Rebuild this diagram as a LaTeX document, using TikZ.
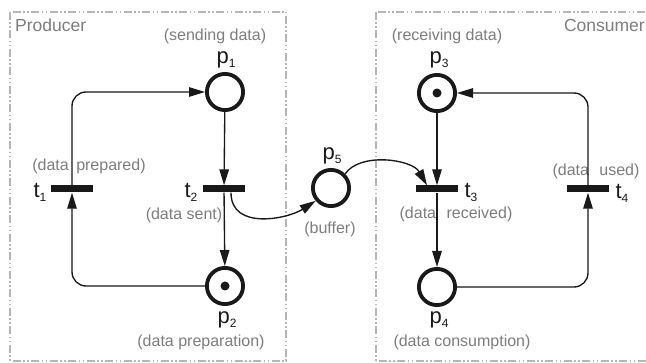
\documentclass[tikz,border=0pt]{standalone}
\usepackage{fontspec}
\setmainfont{Liberation Sans}
\usetikzlibrary{arrows.meta}
\definecolor{labelgray}{RGB}{125,125,125}
\definecolor{framegray}{RGB}{182,182,182}
\definecolor{ink}{RGB}{25,25,25}
% element name with a small lowered index
\newcommand\elname[2]{#1\raisebox{-4pt}{\fontsize{12}{12}\selectfont #2}}

\begin{document}
\begin{tikzpicture}[x=1pt,y=-1pt,
  pl/.style={circle,draw=ink,line width=3.8pt,minimum size=36.2pt,inner sep=0pt},
  tr/.style={rectangle,fill=ink,minimum width=42pt,minimum height=7pt,inner sep=0pt},
  tok/.style={circle,fill=ink,minimum size=9pt,inner sep=0pt},
  elabel/.style={text=ink,font=\fontsize{22}{22}\selectfont,inner sep=0pt},
  note/.style={text=labelgray,font=\fontsize{16}{16}\selectfont,inner sep=0pt},
  grouptitle/.style={text=labelgray,font=\fontsize{17.5}{17.5}\selectfont,inner sep=0pt},
  groupbox/.style={draw=framegray,line width=1.8pt,
    dash pattern=on 8pt off 2.5pt on 1.5pt off 2.5pt on 1.5pt off 2.5pt},
  flow/.style={draw=ink,line width=1.35pt,-{Triangle[length=16pt,width=9.5pt]}},
]
\clip (0,0) rectangle (646,363);

% process boundaries
\draw[groupbox] (10,12) rectangle (286,361);
\draw[groupbox] (376,12) rectangle (670,361);
\node[grouptitle,anchor=west] (producer) at (15,25) {Producer};
\node[grouptitle,anchor=east] (consumer) at (645,25) {Consumer};

% places
\node[pl] (p1) at (225,92) {};
\node[pl] (p2) at (225,286) {};
\node[pl] (p3) at (437,93) {};
\node[pl] (p4) at (437,287) {};
\node[pl] (p5) at (331,188) {};
\node[tok] (k2) at (p2) {};
\node[tok] (k3) at (p3) {};

% transitions
\node[tr] (t1) at (72,189) {};
\node[tr] (t2) at (224,189) {};
\node[tr] (t3) at (437,189) {};
\node[tr] (t4) at (588,189) {};

% element names
\node[elabel] (np1) at (226,60) {\elname{p}{1}};
\node[elabel] (np2) at (227,320) {\elname{p}{2}};
\node[elabel] (np3) at (439,60) {\elname{p}{3}};
\node[elabel] (np4) at (439,320) {\elname{p}{4}};
\node[elabel] (np5) at (332,156) {\elname{p}{5}};
\node[elabel] (nt1) at (40,192) {\elname{t}{1}};
\node[elabel] (nt2) at (191,192) {\elname{t}{2}};
\node[elabel] (nt3) at (471,192) {\elname{t}{3}};
\node[elabel] (nt4) at (622,193) {\elname{t}{4}};

% descriptions
\node[note] (dp1) at (215,36) {(sending data)};
\node[note] (dt1) at (89,166) {(data\hspace{3pt} prepared)};
\node[note] (dt2) at (184,215) {(data sent)};
\node[note] (dp2) at (201,342) {(data preparation)};
\node[note] (dp5) at (330,229) {(buffer)};
\node[note] (dp3) at (447,36) {(receiving data)};
\node[note] (dt3) at (456,214) {(data\hspace{6pt} received)};
\node[note] (dt4) at (596,171) {(data\hspace{6pt} used)};
\node[note] (dp4) at (462,342) {(data consumption)};

% arcs of the net
\draw[flow,rounded corners=14pt] (t1.north) |- (p1.west);
\draw[flow] (p1) -- (t2);
\draw[flow] (t2) -- (p2);
\draw[flow,rounded corners=14pt] (p2.west) -| (t1.south);
\draw[flow] ([xshift=7pt]t2.south) .. controls +(0,38) and +(-28,18) .. (p5.220);
\draw[flow] (p5.45) .. controls +(15,-22) and +(-15,-26) .. ([xshift=-10pt]t3.north);
\draw[flow] (p3) -- (t3);
\draw[flow] (t3) -- (p4);
\draw[flow,rounded corners=14pt] (p4.east) -| (t4.south);
\draw[flow,rounded corners=14pt] (t4.north) |- (p3.east);
\end{tikzpicture}
\end{document}
